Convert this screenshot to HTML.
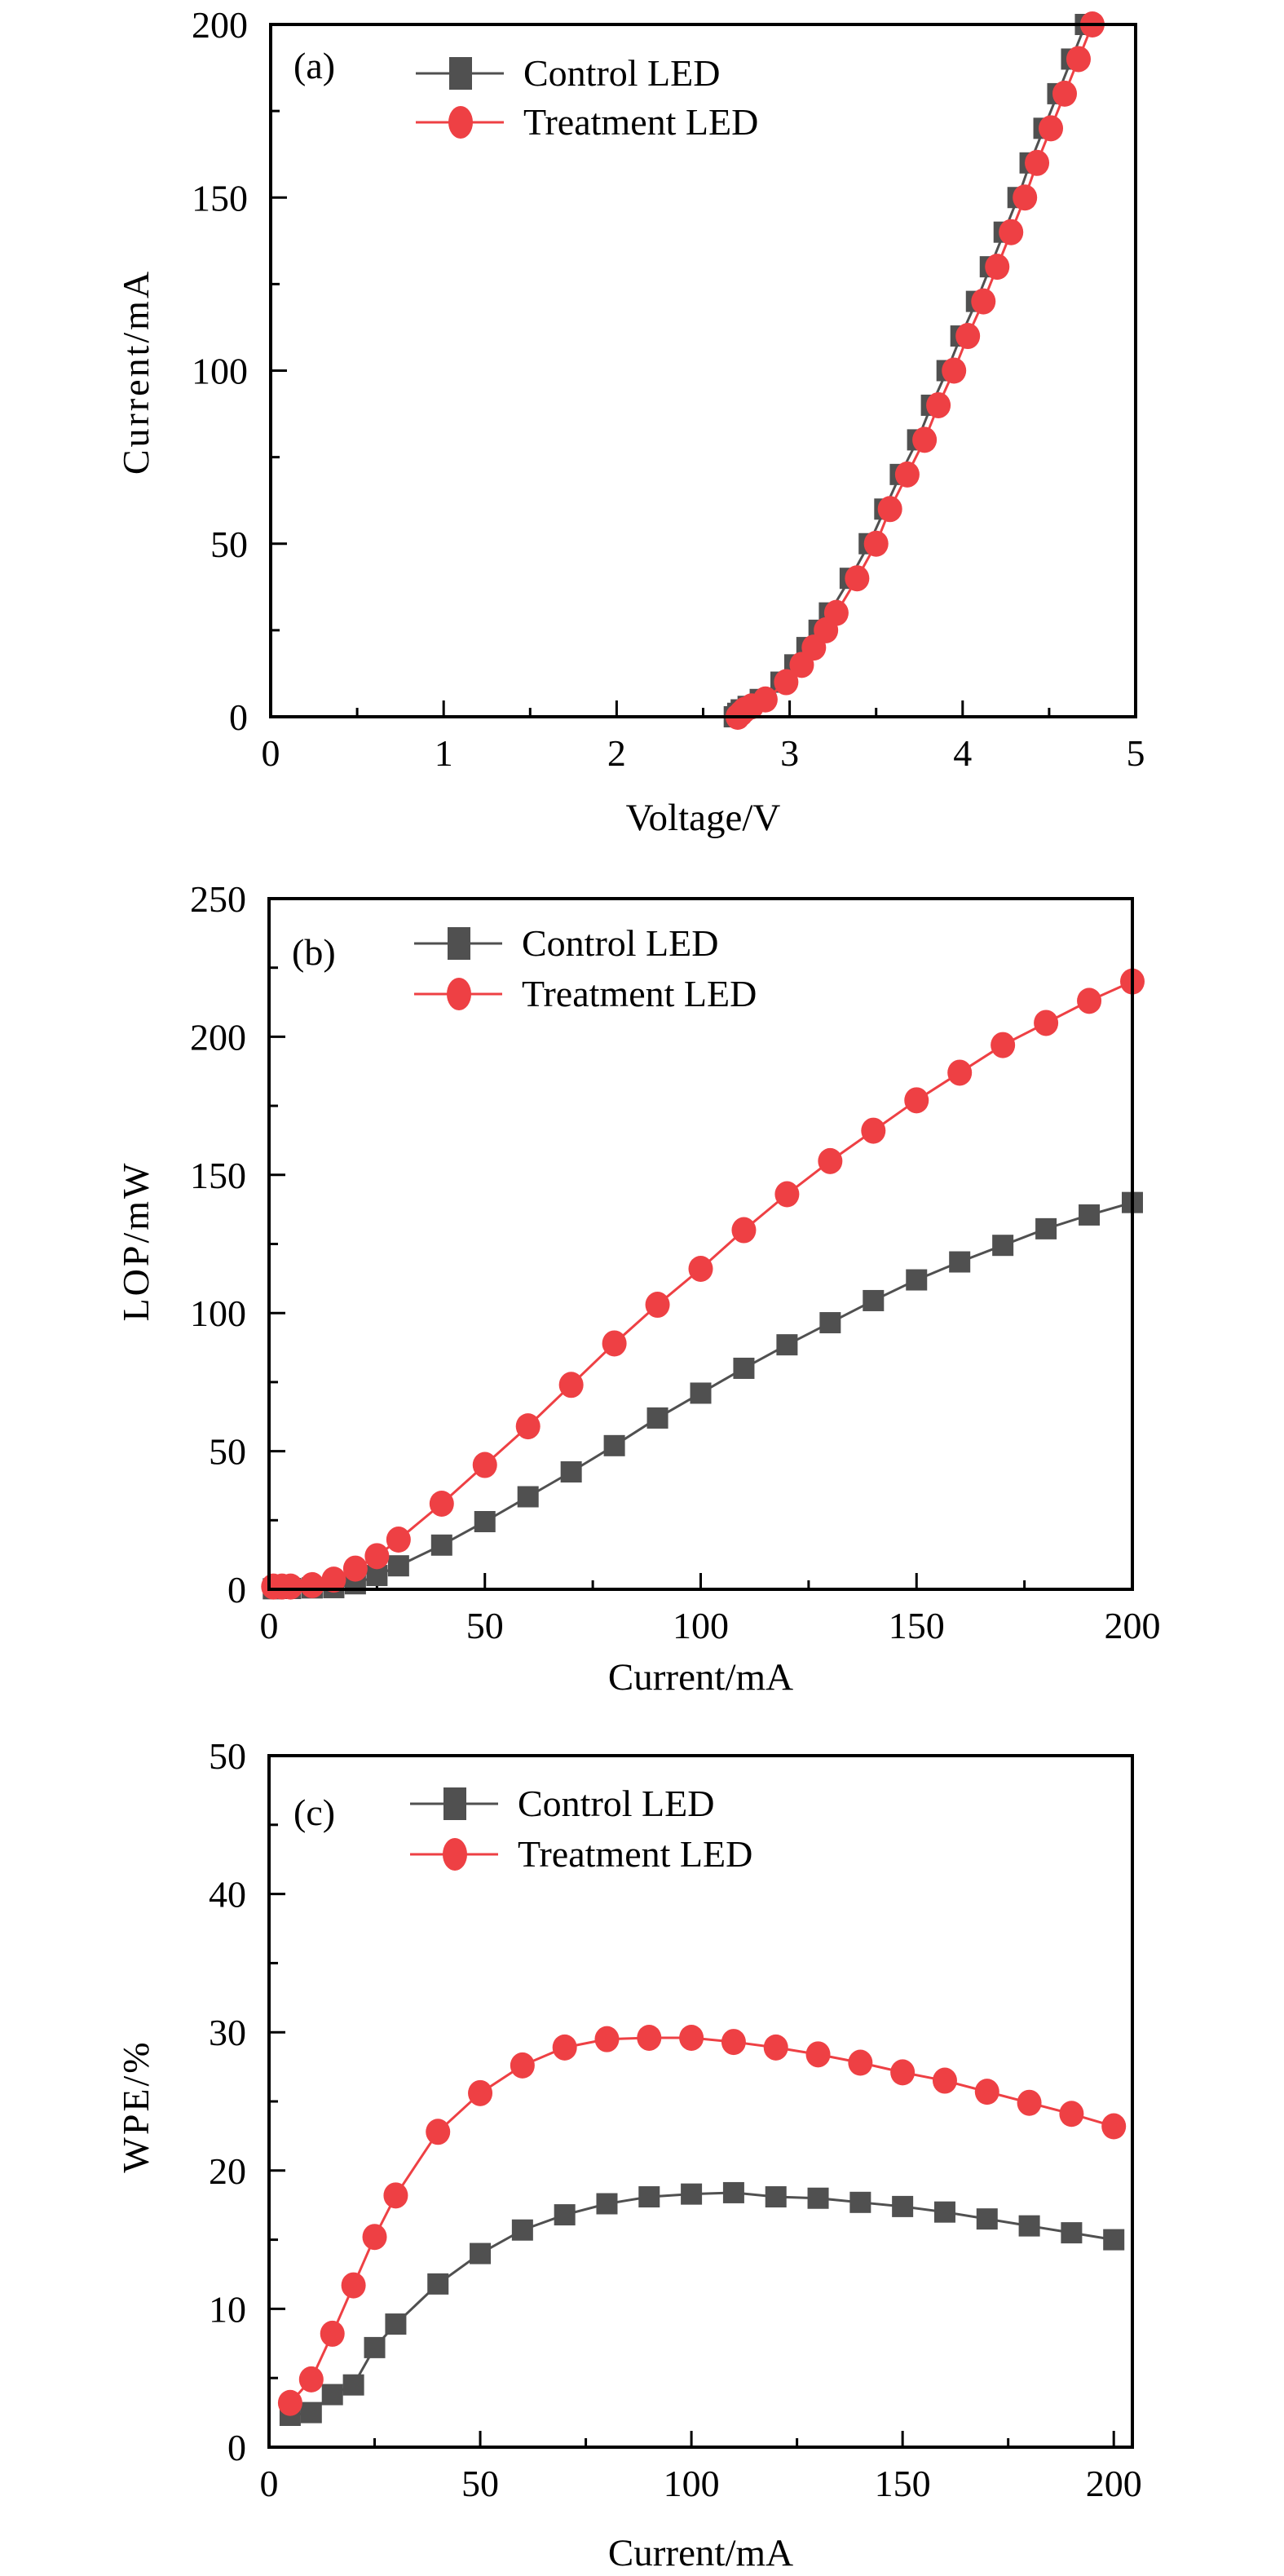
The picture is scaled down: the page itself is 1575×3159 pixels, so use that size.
<!DOCTYPE html>
<html><head><meta charset="utf-8"><style>
html,body{margin:0;padding:0;background:#fff;}
svg{display:block;font-family:"Liberation Serif","DejaVu Serif",serif;}
</style></head><body>
<svg id="fig" width="1575" height="3159" viewBox="0 0 1575 3159" xmlns="http://www.w3.org/2000/svg"></svg>
<script>
// Panel (a): I-V
const ivCurrents = [0,1,2,3,5,10,15,20,25,30,40,50,60,70,80,90,100,110,120,130,140,150,160,170,180,190,200];
const ivControlV = [2.68,2.70,2.72,2.76,2.83,2.95,3.03,3.10,3.17,3.23,3.35,3.46,3.55,3.64,3.74,3.82,3.91,3.99,4.08,4.16,4.24,4.32,4.39,4.47,4.55,4.63,4.71];
const ivTreatV = [2.70,2.72,2.74,2.78,2.86,2.98,3.07,3.14,3.21,3.27,3.39,3.50,3.58,3.68,3.78,3.86,3.95,4.03,4.12,4.20,4.28,4.36,4.43,4.51,4.59,4.67,4.75];
// Panel (b): LOP
const lopCurrents = [1,3,5,10,15,20,25,30,40,50,60,70,80,90,100,110,120,130,140,150,160,170,180,190,200];
const lopControl = [0.2,0.3,0.3,0.5,0.6,2,5,8.5,16,24.5,33.5,42.5,52,62,71,80,88.5,96.5,104.5,112,118.5,124.5,130.5,135.5,140];
const lopTreat = [1,1,1,1.5,3.5,7.5,12,18,31,45,59,74,89,103,116,130,143,155,166,177,187,197,205,213,220];
// Panel (c): WPE
const wpeCurrents = [5,10,15,20,25,30,40,50,60,70,80,90,100,110,120,130,140,150,160,170,180,190,200];
const wpeControl = [2.3,2.5,3.8,4.5,7.2,8.9,11.8,14.0,15.7,16.8,17.6,18.1,18.3,18.4,18.1,18.0,17.7,17.4,17.0,16.5,16.0,15.5,15.0];
const wpeTreat = [3.2,4.9,8.2,11.7,15.2,18.2,22.8,25.6,27.6,28.9,29.5,29.6,29.6,29.3,28.9,28.4,27.8,27.1,26.5,25.7,24.9,24.1,23.2];
const ivXTicks = [0,1,2,3,4,5];
const ivYTicks = [0,50,100,150,200];
const lopXTicks = [0,50,100,150,200];
const lopYTicks = [0,50,100,150,200,250];
const wpeXTicks = [0,50,100,150,200];
const wpeYTicks = [0,10,20,30,40,50];

const NS="http://www.w3.org/2000/svg";
const svg=document.getElementById('fig');
const CTRL="#505050", TREAT="#ee4044";
function mk(tag,attrs,parent){const e=document.createElementNS(NS,tag);for(const k in attrs)e.setAttribute(k,attrs[k]);(parent||svg).appendChild(e);return e;}

function panel(cfg){
  const g=mk('g',{});
  
  
  const {L,R,T,B,xmin,xmax,ymin,ymax}=cfg;
  const sx=v=>L+(v-xmin)/(xmax-xmin)*(R-L);
  const sy=v=>B-(v-ymin)/(ymax-ymin)*(B-T);
  for(let v=xmin;v<=xmax+1e-9;v+=cfg.xMinor){
    const major=cfg.xTicks.some(t=>Math.abs(t-v)<1e-6);
    const t=mk('line',{x1:sx(v),x2:sx(v),y1:B,y2:B-(major?20:11),stroke:'#000','stroke-width':3},g);
    
    
  }
  for(let v=ymin;v<=ymax+1e-9;v+=cfg.yMinor){
    const major=cfg.yTicks.some(t=>Math.abs(t-v)<1e-6);
    const t=mk('line',{x1:L,x2:L+(major?20:11),y1:sy(v),y2:sy(v),stroke:'#000','stroke-width':3},g);
    
    
  }
  cfg.xTicks.forEach(v=>{
    const t=mk('text',{x:sx(v),y:B+60,'font-size':46,'text-anchor':'middle'},g);t.textContent=v;
    
    
  });
  cfg.yTicks.forEach(v=>{
    const t=mk('text',{x:L-28,y:sy(v)+16,'font-size':46,'text-anchor':'end'},g);t.textContent=v;
    
    
  });
  const xt=mk('text',{x:(L+R)/2,y:cfg.xTitleY,'font-size':47,'text-anchor':'middle'},g);xt.textContent=cfg.xTitle;
  
  
  const yt=mk('text',{x:0,y:0,'font-size':46,'text-anchor':'middle','letter-spacing':3,transform:`translate(${cfg.yTitleX},${cfg.yTitleY}) rotate(-90)`},g);yt.textContent=cfg.yTitle;
  
  
  function series(xs,ys,color,shape,name){
    const sg=mk('g',{},g);
    
    
    const pts=xs.map((x,i)=>sx(x)+','+sy(ys[i])).join(' ');
    mk('polyline',{points:pts,fill:'none',stroke:color,'stroke-width':3},sg);
    xs.forEach((x,i)=>{
      const px=sx(x),py=sy(ys[i]);
      let m;
      if(shape==='sq') m=mk('rect',{x:px-13,y:py-13,width:26,height:26,fill:color},sg);
      else m=mk('ellipse',{cx:px,cy:py,rx:cfg.rx||15,ry:16,fill:color},sg);
      
      
    });
  }
  series(cfg.cx,cfg.cy,CTRL,'sq','control-led-series');
  series(cfg.tx,cfg.ty,TREAT,'ci','treatment-led-series');
  const fr=mk('rect',{x:L,y:T,width:R-L,height:B-T,fill:'none',stroke:'#000','stroke-width':4},g);
  
  
  const pl=mk('text',{x:cfg.labX,y:cfg.labY,'font-size':46},g);pl.textContent=cfg.label;
  
  
  const lg=mk('g',{},g);
  
  
  [[CTRL,'sq','Control LED',cfg.legY1],[TREAT,'ci','Treatment LED',cfg.legY2]].forEach(([c,s,txt,y])=>{
    const e=mk('g',{},lg);
    
    
    mk('line',{x1:cfg.legX,x2:cfg.legX+108,y1:y,y2:y,stroke:c,'stroke-width':3},e);
    if(s==='sq') mk('rect',{x:cfg.legX+41,y:y-20,width:28,height:40,fill:c},e);
    else mk('ellipse',{cx:cfg.legX+55,cy:y,rx:15,ry:20,fill:c},e);
    const t=mk('text',{x:cfg.legX+132,y:y+15,'font-size':46},e);t.textContent=txt;
  });
}

panel({name:'panel-a-iv',L:332,R:1393,T:30,B:879,xmin:0,xmax:5,ymin:0,ymax:200,xTicks:ivXTicks,yTicks:ivYTicks,xMinor:0.5,yMinor:25,
  xTitle:'Voltage/V',yTitle:'Current/mA',xTitleY:1018,yTitleX:182,yTitleY:456,
  cx:ivControlV,cy:ivCurrents,tx:ivTreatV,ty:ivCurrents,rx:15,
  label:'(a)',labX:360,labY:96,legX:510,legY1:90,legY2:150});
panel({name:'panel-b-lop',L:330,R:1389,T:1102,B:1949,xmin:0,xmax:200,ymin:0,ymax:250,xTicks:lopXTicks,yTicks:lopYTicks,xMinor:25,yMinor:25,
  xTitle:'Current/mA',yTitle:'LOP/mW',xTitleY:2072,yTitleX:182,yTitleY:1522,
  cx:lopCurrents,cy:lopControl,tx:lopCurrents,ty:lopTreat,
  label:'(b)',labX:358,labY:1183,legX:508,legY1:1157,legY2:1219});
panel({name:'panel-c-wpe',L:330,R:1389,T:2153,B:3001,xmin:0,xmax:204.4,ymin:0,ymax:50,xTicks:wpeXTicks,yTicks:wpeYTicks,xMinor:25,yMinor:5,
  xTitle:'Current/mA',yTitle:'WPE/%',xTitleY:3146,yTitleX:182,yTitleY:2583,
  cx:wpeCurrents,cy:wpeControl,tx:wpeCurrents,ty:wpeTreat,
  label:'(c)',labX:360,labY:2238,legX:503,legY1:2212,legY2:2274});
</script>
</body></html>
